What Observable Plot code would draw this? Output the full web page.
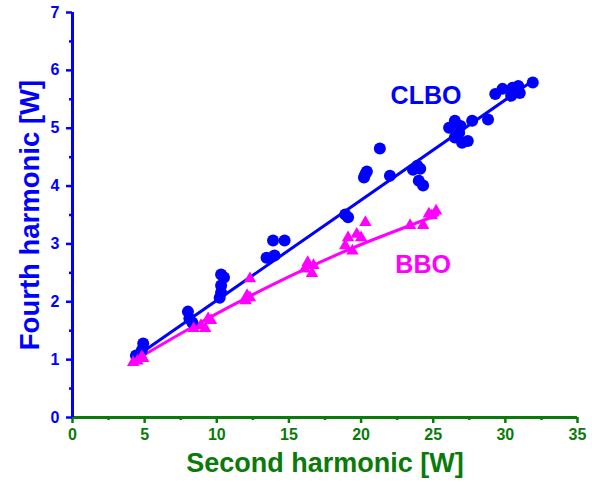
<!DOCTYPE html>
<html><head><meta charset="utf-8">
<script src="https://cdn.jsdelivr.net/npm/d3@7"></script>
<script src="https://cdn.jsdelivr.net/npm/@observablehq/plot@0.6"></script>
<style>body{margin:0;background:#fff}svg{font-family:"Liberation Sans",Arial,sans-serif}</style>
</head><body><div id="chart"></div>
<script>
const clboX = [4.4,4.8,4.9,8.0,8.1,8.3,10.3,10.5,10.3,10.3,10.2,13.45,14.0,13.9,14.7,18.9,19.1,20.2,20.3,20.4,21.3,22.0,23.6,23.9,24.1,24.0,24.3,26.1,26.5,26.9,26.8,26.5,27.0,27.4,27.7,28.8,29.3,29.8,30.4,30.5,30.9,31.0,31.9];
const clboY = [1.07,1.16,1.28,1.83,1.71,1.64,2.47,2.42,2.28,2.16,2.07,2.76,2.80,3.06,3.06,3.51,3.46,4.15,4.21,4.25,4.65,4.18,4.28,4.35,4.30,4.09,4.01,5.01,5.13,5.04,4.92,4.84,4.75,4.78,5.13,5.15,5.59,5.68,5.56,5.70,5.73,5.61,5.79];
const bboX = [4.2,4.5,4.8,4.9,8.4,8.9,9.2,9.4,9.6,12.0,12.1,12.3,12.3,16.1,16.3,16.6,16.7,18.9,19.1,19.4,19.7,20.0,20.3,23.4,24.3,24.7,24.9,25.2];
const bboY = [0.95,0.98,1.05,1.02,1.54,1.59,1.54,1.71,1.68,2.02,2.11,2.07,2.40,2.57,2.68,2.49,2.63,2.97,3.11,2.88,3.17,3.11,3.37,3.32,3.32,3.52,3.49,3.57];
const clboFitX = [4.2, 31.9];
const clboFitY = [1.02, 5.82];
const bboFitX = [4.2, 8, 12, 16, 20, 25.3];
const bboFitY = [0.97, 1.52, 2.06, 2.55, 2.99, 3.50];
const xTicks = [0,5,10,15,20,25,30,35];
const yTicks = [0,1,2,3,4,5,6,7];
const labelText = ["CLBO","BBO"];
const labelX = [24.5, 24.3];
const labelY = [5.56, 2.64];

const BLUE = "#0000ff", MAG = "#ff00ff", GREEN = "#0a7a0a";
const clbo = clboX.map((x,i)=>({x, y: clboY[i]}));
const bbo = bboX.map((x,i)=>({x, y: bboY[i]}));
const clboFit = clboFitX.map((x,i)=>({x, y: clboFitY[i]}));
const bboFit = bboFitX.map((x,i)=>({x, y: bboFitY[i]}));
const labels = labelText.map((t,i)=>({t, x: labelX[i], y: labelY[i]}));
const xMinor = xTicks.slice(0,-1).map(v=>v+2.5);
const yMinor = yTicks.slice(0,-1).map(v=>v+0.5);

const chart = Plot.plot({
  width: 592, height: 489,
  marginLeft: 72, marginRight: 15, marginTop: 12, marginBottom: 72,
  x: {domain: [0,35]},
  y: {domain: [0,7]},
  style: {fontFamily: '"Liberation Sans", Arial, sans-serif', background: "#fff"},
  marks: [
    Plot.axisX({ticks: xTicks, tickFormat: "d", tickSize: 6, tickPadding: 5, strokeWidth: 2.5, stroke: GREEN, color: GREEN, fontSize: 16, fontWeight: "bold", label: null}),
    Plot.axisX({ticks: xMinor, tickSize: 3, strokeWidth: 2.5, stroke: GREEN, text: null, label: null}),
    Plot.axisY({ticks: yTicks, tickFormat: "d", tickSize: 6, tickPadding: 7, strokeWidth: 2.5, stroke: BLUE, color: BLUE, fontSize: 16, fontWeight: "bold", label: null}),
    Plot.axisY({ticks: yMinor, tickSize: 3, strokeWidth: 2.5, stroke: BLUE, text: null, label: null}),
    Plot.ruleY([0], {stroke: GREEN, strokeWidth: 3}),
    Plot.ruleX([0], {stroke: BLUE, strokeWidth: 3}),
    Plot.line(clboFit, {x: "x", y: "y", stroke: BLUE, strokeWidth: 3}),
    Plot.line(bboFit, {x: "x", y: "y", stroke: MAG, strokeWidth: 3, curve: "natural"}),
    Plot.dot(clbo, {x: "x", y: "y", r: 6, fill: BLUE, symbol: "circle"}),
    Plot.dot(bbo, {x: "x", y: "y", r: 4.6, fill: MAG, symbol: "triangle"}),
    Plot.text(labels, {x: "x", y: "y", text: "t", fill: (d)=> d.t === "CLBO" ? BLUE : MAG, fontSize: 25, fontWeight: "bold"}),
    Plot.text(["Second harmonic [W]"], {frameAnchor: "bottom", dy: 54, fill: GREEN, fontSize: 27, fontWeight: "bold", text: d=>d}),
    Plot.text(["Fourth harmonic [W]"], {frameAnchor: "left", dx: -42, rotate: -90, textAnchor: "middle", fill: BLUE, fontSize: 27.5, fontWeight: "bold", text: d=>d})
  ]
});
document.getElementById("chart").appendChild(chart);
</script></body></html>
